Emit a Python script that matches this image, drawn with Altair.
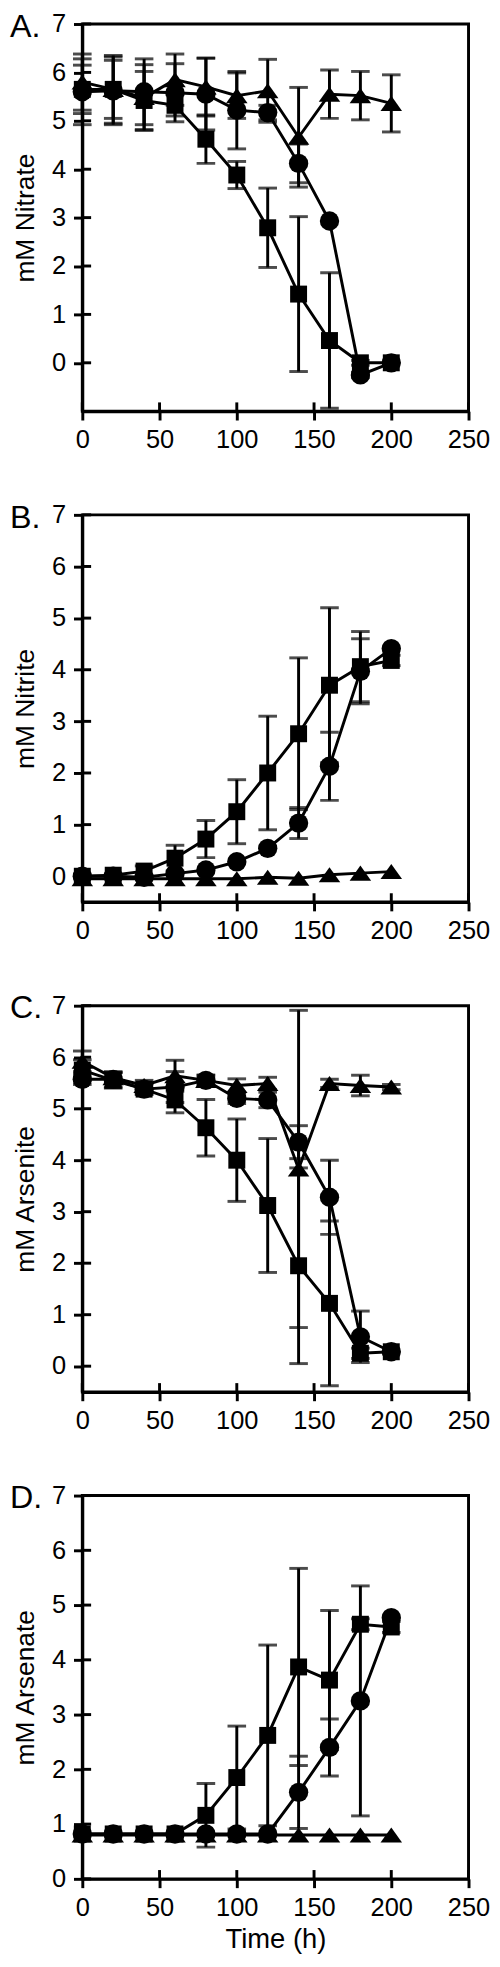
import altair as alt
import pandas as pd

TIME = [0, 20, 40, 60, 80, 100, 120, 140, 160, 180, 200]
X_TICKS = [0, 50, 100, 150, 200, 250]

# Panel A: Nitrate
A_SQ = [5.65, 5.65, 5.42, 5.32, 4.62, 3.88, 2.79, 1.42, 0.46, 0.0, 0.0]
A_SQ_ERR = [0.5, 0.6, 0.6, 0.22, 0.5, 0.28, 0.82, 1.6, 1.4, 0.05, 0.0]
A_CI = [5.6, 5.62, 5.6, 5.58, 5.55, 5.22, 5.17, 4.12, 2.93, -0.25, 0.0]
A_CI_ERR = [0.68, 0.7, 0.68, 0.6, 0.74, 0.8, 0.15, 0.4, 0.0, 0.05, 0.0]
A_TR = [5.8, 5.65, 5.48, 5.85, 5.7, 5.52, 5.62, 4.66, 5.55, 5.52, 5.36]
A_TR_ERR = [0.58, 0.7, 0.68, 0.53, 0.6, 0.47, 0.65, 1.03, 0.5, 0.5, 0.59]

# Panel B: Nitrite
B_SQ = [0.0, 0.02, 0.1, 0.35, 0.72, 1.25, 2.0, 2.76, 3.7, 4.06, 4.18]
B_SQ_ERR = [0.0, 0.0, 0.1, 0.25, 0.36, 0.62, 1.1, 1.47, 1.5, 0.68, 0.1]
B_CI = [0.0, 0.0, -0.02, 0.05, 0.12, 0.28, 0.54, 1.03, 2.13, 3.97, 4.41]
B_CI_ERR = [0, 0, 0, 0, 0, 0, 0, 0.3, 0.66, 0.63, 0]
B_TR = [-0.05, -0.05, -0.05, -0.05, -0.05, -0.05, -0.02, -0.04, 0.03, 0.06, 0.09]
B_TR_ERR = [0] * 11

# Panel C: Arsenite
C_SQ = [5.75, 5.55, 5.38, 5.17, 4.63, 4.0, 3.12, 1.95, 1.22, 0.25, 0.28]
C_SQ_ERR = [0.2, 0.15, 0.1, 0.25, 0.55, 0.8, 1.3, 1.9, 1.6, 0.1, 0.0]
C_CI = [5.57, 5.57, 5.38, 5.42, 5.55, 5.2, 5.17, 4.35, 3.28, 0.57, 0.28]
C_CI_ERR = [0.1, 0.15, 0.1, 0.3, 0.1, 0.1, 0.15, 0.32, 0.72, 0.5, 0.0]
C_TR = [5.92, 5.6, 5.45, 5.64, 5.55, 5.45, 5.49, 3.83, 5.49, 5.45, 5.42]
C_TR_ERR = [0.2, 0.1, 0.1, 0.3, 0.1, 0.13, 0.12, 3.08, 0.08, 0.2, 0.05]

# Panel D: Arsenate
D_SQ = [0.82, 0.82, 0.82, 0.82, 1.16, 1.85, 2.62, 3.87, 3.63, 4.65, 4.6]
D_SQ_ERR = [0, 0, 0, 0, 0.58, 0.94, 1.65, 1.8, 1.27, 0.1, 0.1]
D_CI = [0.82, 0.82, 0.82, 0.82, 0.82, 0.82, 0.82, 1.58, 2.4, 3.25, 4.77]
D_CI_ERR = [0, 0, 0, 0, 0, 0, 0, 0.66, 0.52, 2.1, 0]
D_TR = [0.8] * 11
D_TR_ERR = [0] * 11

TRI_PATH = "M0,-0.7L1,0.7L-1,0.7Z"
FONT = "Liberation Sans"
W = 395


def panel(letter, ytitle, ydomain, yticks, sq, sqe, ci, cie, tr, tre, height, xtitle=None):
    rows = []
    for s, vals, errs in (("sq", sq, sqe), ("ci", ci, cie), ("tr", tr, tre)):
        for t, v, e in zip(TIME, vals, errs):
            rows.append({"t": t, "v": v, "s": s, "lo": v - e, "hi": v + e, "e": e})
    df = pd.DataFrame(rows)
    x_axis = alt.Axis(values=X_TICKS, tickSize=9, labelPadding=7, format="d",
                      titlePadding=6, titleFontSize=28)
    x = alt.X("t:Q", scale=alt.Scale(domain=[0, 250], nice=False), axis=x_axis,
              title=xtitle)
    y = alt.Y("v:Q", scale=alt.Scale(domain=ydomain, nice=False, zero=False),
              axis=alt.Axis(values=yticks, tickSize=9, labelPadding=8, titlePadding=12,
                            format="d"),
              title=ytitle)
    base = alt.Chart(df)
    err = base.transform_filter("datum.e > 0")
    rules = err.mark_rule(color="black", strokeWidth=3).encode(
        x=x, y=alt.Y("lo:Q"), y2="hi:Q")
    cap_hi = err.mark_tick(color="black", orient="horizontal", size=19, thickness=3).encode(
        x=x, y=alt.Y("hi:Q"))
    cap_lo = err.mark_tick(color="black", orient="horizontal", size=19, thickness=3).encode(
        x=x, y=alt.Y("lo:Q"))
    lines = base.mark_line(color="black", strokeWidth=3).encode(
        x=x, y=y, detail="s:N", order="t:Q")
    pts = base.mark_point(filled=True, opacity=1, color="black").encode(
        x=x, y=y,
        shape=alt.Shape("s:N", scale=alt.Scale(domain=["sq", "ci", "tr"],
                                                range=["square", "circle", TRI_PATH]),
                        legend=None),
        size=alt.Size("s:N", scale=alt.Scale(domain=["sq", "ci", "tr"],
                                              range=[300, 484, 484]),
                      legend=None))
    ytick_df = pd.DataFrame({"v": yticks})
    yin = alt.Chart(ytick_df).mark_rule(color="black", strokeWidth=3).encode(
        y=y, x=alt.value(0), x2=alt.value(9))
    xtick_df = pd.DataFrame({"t": X_TICKS})
    xin = alt.Chart(xtick_df).mark_rule(color="black", strokeWidth=3).encode(
        x=x, y=alt.value(height), y2=alt.value(height - 9))
    lab = alt.Chart(pd.DataFrame({"t": [0]})).mark_text(
        text=letter, fontSize=33, font=FONT, align="left", baseline="alphabetic",
        color="black").encode(x=alt.value(-74), y=alt.value(13))
    return alt.layer(rules, cap_hi, cap_lo, lines, pts, yin, xin, lab).properties(
        width=W, height=height)


pa = panel("A.", "mM Nitrate", [-1, 7], [0, 1, 2, 3, 4, 5, 6, 7],
           A_SQ, A_SQ_ERR, A_CI, A_CI_ERR, A_TR, A_TR_ERR, 396)
pb = panel("B.", "mM Nitrite", [-0.5, 7], [0, 1, 2, 3, 4, 5, 6, 7],
           B_SQ, B_SQ_ERR, B_CI, B_CI_ERR, B_TR, B_TR_ERR, 396)
pc = panel("C.", "mM Arsenite", [-0.5, 7], [0, 1, 2, 3, 4, 5, 6, 7],
           C_SQ, C_SQ_ERR, C_CI, C_CI_ERR, C_TR, C_TR_ERR, 395)
pd_ = panel("D.", "mM Arsenate", [0, 7], [0, 1, 2, 3, 4, 5, 6, 7],
            D_SQ, D_SQ_ERR, D_CI, D_CI_ERR, D_TR, D_TR_ERR, 392, xtitle="Time (h)")

chart = alt.vconcat(pa, pb, pc, pd_, spacing=47).properties(
    padding={"left": 0, "top": -21, "right": 0, "bottom": 0}
).configure(background="white").configure_view(
    stroke="black", strokeWidth=3
).configure_axis(
    grid=False, domainColor="black", domainWidth=3, tickColor="black", tickWidth=3,
    labelColor="black", labelFontSize=26, labelFont=FONT, titleFont=FONT,
    titleFontSize=27, titleFontWeight="normal", titleColor="black", labelFlush=False,
    labelOverlap=False
)

chart.save("out.html", embed_options={"renderer": "svg", "actions": False})
